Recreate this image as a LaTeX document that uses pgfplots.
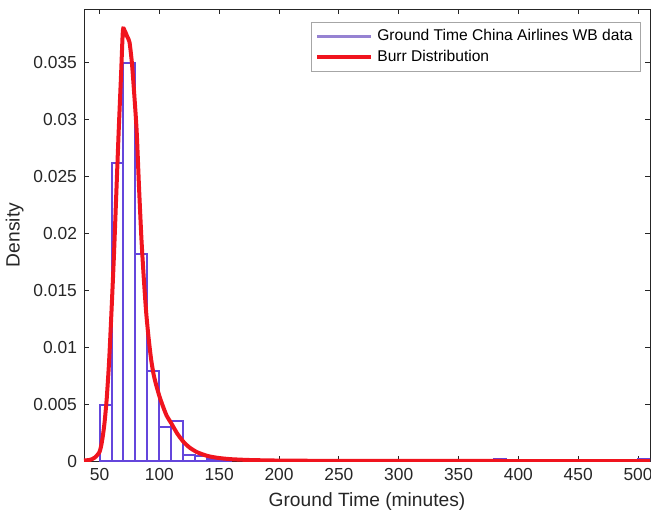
\documentclass[border=0pt]{standalone}
\usepackage{pgfplots}
\pgfplotsset{compat=1.18}
\usepackage{fontspec}
\setmainfont{Liberation Sans}
\definecolor{axgray}{RGB}{38,38,38}
\definecolor{barpurple}{RGB}{100,70,220}
\definecolor{legpurple}{RGB}{150,130,210}
\definecolor{burrred}{RGB}{240,20,30}
\begin{document}
\begin{tikzpicture}
\begin{axis}[
  at={(0,0)}, anchor=south west,
  scale only axis, width=283pt, height=226pt,
  xmin=37, xmax=510, ymin=0, ymax=0.0397,
  xtick={50,100,150,200,250,300,350,400,450,500},
  ytick={0,0.005,0.01,0.015,0.02,0.025,0.03,0.035},
  yticklabels={0,0.005,0.01,0.015,0.02,0.025,0.03,0.035},
  scaled y ticks=false,
  tick align=inside, major tick length=2.5pt,
  axis line style={axgray, line width=0.4pt},
  every tick/.style={axgray, line width=0.4pt},
  ticklabel style={font=\fontsize{8.7}{10}\selectfont, text=axgray},
  /pgf/number format/assume math mode=true,
  xlabel={Ground Time (minutes)}, ylabel={Density},
  label style={font=\fontsize{9.6}{11}\selectfont, text=axgray},
  xlabel style={yshift=1pt},
  ylabel style={yshift=-2pt},
  legend style={at={(rel axis cs:0.984,0.971)}, anchor=north east,
    font=\fontsize{7.8}{9}\selectfont, draw=gray!70, line width=0.4pt,
    inner xsep=2pt, inner ysep=1.5pt, row sep=-1pt},
  legend cell align=left,
]
\addplot[ybar, bar width=10, bar shift=0pt, draw=barpurple, fill=none, line width=1pt,
  legend image code/.code={\draw[legpurple, line width=1.2pt] (0pt,0pt) -- (27pt,0pt);}]
  coordinates {
  (55,0.0049) (65,0.0262) (75,0.0350) (85,0.0182) (95,0.0079)
  (105,0.0030) (115,0.0035) (125,0.0005) (135,0.0004) (145,0.0002)
  (155,0.0001) (385,0.0002) (505,0.0002)
  };
\addlegendentry{Ground Time China Airlines WB data}
\addplot[burrred, line width=2pt, smooth, tension=0.4,
  legend image code/.code={\draw[burrred, line width=2pt] (0pt,0pt) -- (27pt,0pt);}]
  coordinates {
  (37,0.00005) (42,0.0001) (46,0.0003) (50,0.0008) (52,0.0017)
  (54,0.0032) (56,0.0055) (58,0.0088) (60,0.0132) (62,0.0180)
  (64,0.0235) (66,0.0290) (68,0.0340) (69.5,0.0378) (71,0.0378)
  (73,0.0373) (75,0.0368) (77,0.0350) (79,0.0322) (81,0.0290)
  (83,0.0240) (85,0.0195) (87,0.0160) (89,0.0130) (91,0.0108)
  (93,0.0090) (95,0.0077) (97,0.0068) (100,0.0057) (103,0.0048)
  (106,0.0040) (110,0.0033) (115,0.0024) (120,0.0017) (125,0.0012)
  (131,0.0008) (137,0.00055) (142,0.0004) (150,0.00026) (160,0.00016)
  (175,0.00009) (200,0.00004) (250,0.00001) (300,0.000005)
  (400,0.000001) (510,0)
  };
\addlegendentry{Burr Distribution}
\end{axis}
\pgfresetboundingbox
\path[use as bounding box] (-42pt,-27.5pt) rectangle (283.5pt,230.5pt);
\end{tikzpicture}
\end{document}
